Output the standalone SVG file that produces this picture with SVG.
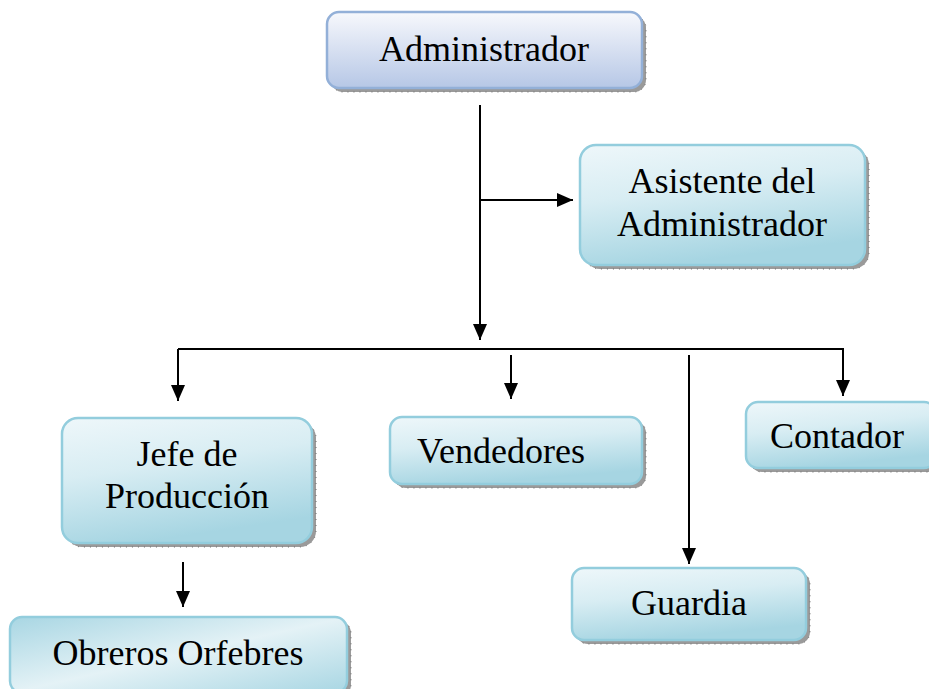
<svg xmlns="http://www.w3.org/2000/svg" width="929" height="689" viewBox="0 0 929 689">
<defs>
<linearGradient id="gAdm" x1="0" y1="0" x2="0" y2="1">
<stop offset="0" stop-color="#f7f8fc"/>
<stop offset="1" stop-color="#b6c7e6"/>
</linearGradient>
<linearGradient id="gCy" x1="0" y1="0" x2="0.3" y2="1">
<stop offset="0" stop-color="#eef7fa"/>
<stop offset="0.45" stop-color="#d8edf3"/>
<stop offset="1" stop-color="#a6d5e2"/>
</linearGradient>
<linearGradient id="gOb" x1="0" y1="0" x2="1" y2="1">
<stop offset="0" stop-color="#a8d6e3"/>
<stop offset="0.5" stop-color="#e4f2f6"/>
<stop offset="1" stop-color="#a8d6e3"/>
</linearGradient>
<marker id="ah" viewBox="0 0 16 14" refX="16" refY="7" markerWidth="16" markerHeight="14" markerUnits="userSpaceOnUse" orient="auto">
<path d="M0,0 L16,7 L0,14 Z" fill="#000"/>
</marker>
</defs>
<style>
.sh{fill:#9a9a9a;stroke:#6e6e6e;stroke-width:1;stroke-dasharray:1 5}
.adm{fill:url(#gAdm);stroke:#93b0d8;stroke-width:2.5}
.cy{fill:url(#gCy);stroke:#93cddd;stroke-width:2.5}
.ob{fill:url(#gOb);stroke:#93cddd;stroke-width:2.5}
text{font-family:"Liberation Serif","Times New Roman",serif;font-size:36px;fill:#000;text-anchor:middle}
.ln{stroke:#000;stroke-width:2;fill:none}
.ar{stroke:#000;stroke-width:2;fill:none;marker-end:url(#ah)}
</style>
<rect width="929" height="689" fill="#fff"/>
<g id="connectors">
<line class="ar" x1="480" y1="105" x2="480" y2="340"/>
<line class="ar" x1="480" y1="200" x2="573" y2="200"/>
<line class="ln" x1="178" y1="349" x2="844" y2="349"/>
<line class="ar" x1="178" y1="349" x2="178" y2="401"/>
<line class="ar" x1="511" y1="355" x2="511" y2="399"/>
<line class="ar" x1="689" y1="355" x2="689" y2="564"/>
<line class="ar" x1="843" y1="349" x2="843" y2="396"/>
<line class="ar" x1="183" y1="562" x2="183" y2="607"/>
</g>
<g id="administrador">
<rect class="sh" x="331" y="16" width="315" height="76" rx="12"/>
<rect class="adm" x="327" y="12" width="315" height="76" rx="12"/>
<text x="484" y="61">Administrador</text>
</g>
<g id="asistente">
<rect class="sh" x="584" y="149" width="285" height="120" rx="16"/>
<rect class="cy" x="580" y="145" width="285" height="120" rx="16"/>
<text x="722" y="193">Asistente del</text>
<text x="722" y="236">Administrador</text>
</g>
<g id="jefe">
<rect class="sh" x="66" y="422" width="250" height="125" rx="16"/>
<rect class="cy" x="62" y="418" width="250" height="125" rx="16"/>
<text x="187" y="466">Jefe de</text>
<text x="187" y="508">Producción</text>
</g>
<g id="vendedores">
<rect class="sh" x="394" y="421" width="252" height="67" rx="12"/>
<rect class="cy" x="390" y="417" width="252" height="67" rx="12"/>
<text x="501" y="463">Vendedores</text>
</g>
<g id="contador">
<rect class="sh" x="750" y="406" width="190" height="66" rx="12"/>
<rect class="cy" x="746" y="402" width="190" height="66" rx="12"/>
<text x="837" y="448">Contador</text>
</g>
<g id="guardia">
<rect class="sh" x="576" y="572" width="234" height="72" rx="12"/>
<rect class="cy" x="572" y="568" width="234" height="72" rx="12"/>
<text x="689" y="615">Guardia</text>
</g>
<g id="obreros">
<rect class="sh" x="14" y="621" width="337" height="76" rx="12"/>
<rect class="ob" x="10" y="617" width="337" height="76" rx="12"/>
<text x="178" y="665">Obreros Orfebres</text>
</g>
</svg>
